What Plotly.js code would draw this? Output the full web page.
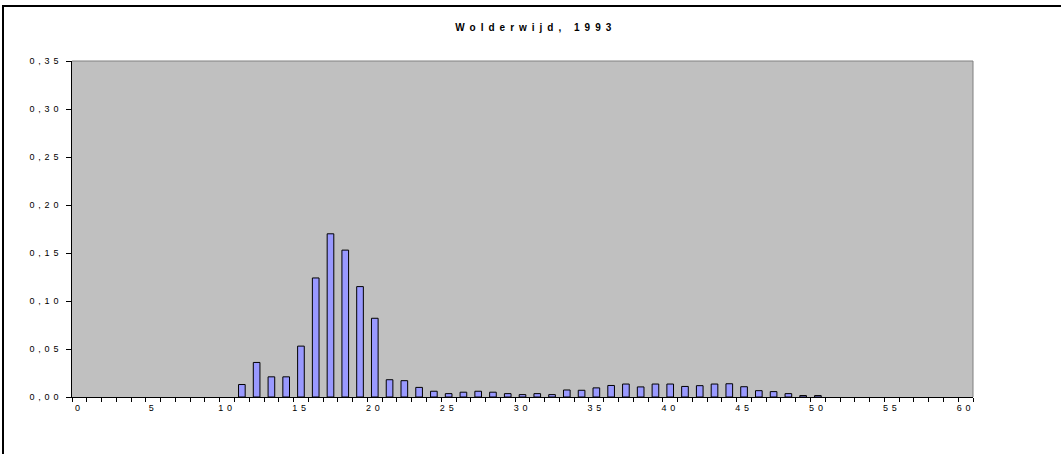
<!DOCTYPE html>
<html>
<head>
<meta charset="utf-8">
<script src="https://cdn.plot.ly/plotly-3.0.1.min.js"></script>
<style>
  html, body { margin: 0; padding: 0; overflow: hidden; background: #fff; }
  #chart { position: absolute; left: 0; top: 0; width: 1061px; height: 454px; }
  .xtick text, .ytick text { letter-spacing: 3.8px; }
  .gtitle { letter-spacing: 5px; }
</style>
</head>
<body>
<div id="chart"></div>
<script>
// Length class (categories 0..60) and relative frequency (null = no bar)
const lengthClasses = [];
for (let i = 0; i <= 60; i++) lengthClasses.push(i);

const frequencies = [
  null, null, null, null, null, null, null, null, null, null, // 0-9
  null, 0.013, 0.036, 0.021, 0.021,        // 10-14
  0.053, 0.124, 0.170, 0.153, 0.115,       // 15-19
  0.082, 0.018, 0.017, 0.010, 0.006,       // 20-24
  0.0035, 0.005, 0.006, 0.005, 0.0035,     // 25-29
  0.0025, 0.0035, 0.0025, 0.0073, 0.007,   // 30-34
  0.0095, 0.012, 0.0135, 0.0105, 0.0135,   // 35-39
  0.0135, 0.011, 0.0118, 0.0135, 0.0138,   // 40-44
  0.0107, 0.0066, 0.0056, 0.0035, 0.0015,  // 45-49
  0.0015, null, null, null, null, null, null, null, null, null, null // 50-60
];

const chartTitle = "Wolderwijd, 1993";

const trace = {
  type: 'bar',
  x: lengthClasses,
  y: frequencies,
  width: 0.45,
  marker: { color: '#9999FF', line: { color: '#000000', width: 1 } },
  hoverinfo: 'x+y'
};

const layout = {
  width: 1061,
  height: 454,
  margin: { l: 72, r: 88, t: 61, b: 57, pad: 0 },
  paper_bgcolor: '#ffffff',
  plot_bgcolor: '#C0C0C0',
  separators: ', ',
  showlegend: false,
  font: { family: 'Liberation Sans, Arial, sans-serif', size: 9, color: '#000' },
  title: {
    text: chartTitle,
    font: { family: 'Liberation Sans, Arial, sans-serif', size: 10, weight: 'bold', color: '#000' },
    xref: 'container', x: 0.505, xanchor: 'center',
    yref: 'container', y: 1 - 27 / 454, yanchor: 'middle'
  },
  xaxis: {
    type: 'linear',
    range: [-0.5, 60.5],
    tick0: 0, dtick: 5,
    ticks: '',
    showgrid: false, zeroline: false,
    showline: true, linecolor: '#000', linewidth: 1,
    tickfont: { size: 9, color: '#000' },
    ticklabelstandoff: 2,
    minor: { tick0: -0.5, dtick: 1, ticks: 'outside', ticklen: 4, tickcolor: '#000', tickwidth: 1, showgrid: false }
  },
  yaxis: {
    range: [0, 0.35],
    tick0: 0, dtick: 0.05,
    tickformat: '.2f',
    ticks: 'outside', ticklen: 5, tickcolor: '#000', tickwidth: 1,
    showgrid: false, zeroline: false,
    showline: true, linecolor: '#000', linewidth: 1,
    tickfont: { size: 9, color: '#000' },
    ticklabelstandoff: 2
  },
  shapes: [
    // plot-area border (top and right, grey)
    { type: 'line', xref: 'paper', yref: 'paper', x0: 0, x1: 1, y0: 1, y1: 1, line: { color: '#808080', width: 1 } },
    { type: 'line', xref: 'paper', yref: 'paper', x0: 1, x1: 1, y0: 0, y1: 1, line: { color: '#808080', width: 1 } },
    // outer chart frame (top and left edges visible)
    { type: 'line', xref: 'paper', yref: 'paper', x0: -70 / 901, x1: 1100 / 901, y0: 1 + 55 / 336, y1: 1 + 55 / 336, line: { color: '#000', width: 2 } },
    { type: 'line', xref: 'paper', yref: 'paper', x0: -69 / 901, x1: -69 / 901, y0: 1 + 56 / 336, y1: -80 / 336, line: { color: '#000', width: 2 } }
  ]
};

Plotly.newPlot('chart', [trace], layout, { displayModeBar: false, staticPlot: true });
</script>
</body>
</html>
